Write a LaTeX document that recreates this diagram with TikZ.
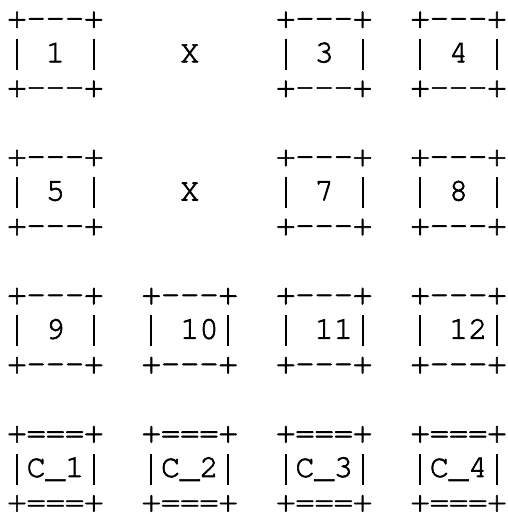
\documentclass[tikz,border=0pt]{standalone}
\usepackage{fontspec}
\setmonofont[FakeBold=2]{TeX Gyre Cursor}
\newcommand\gp[1]{\hspace*{\dimexpr #1\dimexpr 0.6em\relax\relax}}
\newcommand\vb{\makebox[0.6em][c]{\rule[-0.24em]{2pt}{0.97em}}}
\tikzset{
  asciiline/.style={anchor=base west, inner sep=0pt, outer sep=0pt, text depth=0pt,
    font=\ttfamily\fontsize{32}{34}\selectfont, text=black}
}
\begin{document}
\begin{tikzpicture}[x=1pt,y=1pt]
\useasboundingbox[fill=white] (0,0) rectangle (507,-514);
\def\lx{7.4}
\def\sp{34.55}
\def\bl{27.8}
% row 1
\node[asciiline] (l1)  at (\lx,{-(\bl+0*\sp)})  {+---+\gp{9}+---+\gp{2}+---+};
\node[asciiline] (l2)  at (\lx,{-(\bl+1*\sp)})  {\vb\gp{1}1\gp{1}\vb\gp{4}X\gp{4}\vb\gp{1}3\gp{1}\vb\gp{2}\vb\gp{1}4\gp{1}\vb};
\node[asciiline] (l3)  at (\lx,{-(\bl+2*\sp)})  {+---+\gp{9}+---+\gp{2}+---+};
% row 2
\node[asciiline] (l5)  at (\lx,{-(\bl+4*\sp)})  {+---+\gp{9}+---+\gp{2}+---+};
\node[asciiline] (l6)  at (\lx,{-(\bl+5*\sp)})  {\vb\gp{1}5\gp{1}\vb\gp{4}X\gp{4}\vb\gp{1}7\gp{1}\vb\gp{2}\vb\gp{1}8\gp{1}\vb};
\node[asciiline] (l7)  at (\lx,{-(\bl+6*\sp)})  {+---+\gp{9}+---+\gp{2}+---+};
% row 3
\node[asciiline] (l9)  at (\lx,{-(\bl+8*\sp)})  {+---+\gp{2}+---+\gp{2}+---+\gp{2}+---+};
\node[asciiline] (l10) at (\lx,{-(\bl+9*\sp)})  {\vb\gp{1}9\gp{1}\vb\gp{2}\vb\gp{1}10\vb\gp{2}\vb\gp{1}11\vb\gp{2}\vb\gp{1}12\vb};
\node[asciiline] (l11) at (\lx,{-(\bl+10*\sp)}) {+---+\gp{2}+---+\gp{2}+---+\gp{2}+---+};
% row 4
\node[asciiline] (l13) at (\lx,{-(\bl+12*\sp)}) {+===+\gp{2}+===+\gp{2}+===+\gp{2}+===+};
\node[asciiline] (l14) at (\lx,{-(\bl+13*\sp)}) {\vb C\_1\vb\gp{2}\vb C\_2\vb\gp{2}\vb C\_3\vb\gp{2}\vb C\_4\vb};
\node[asciiline] (l15) at (\lx,{-(\bl+14*\sp)}) {+===+\gp{2}+===+\gp{2}+===+\gp{2}+===+};
\end{tikzpicture}
\end{document}
